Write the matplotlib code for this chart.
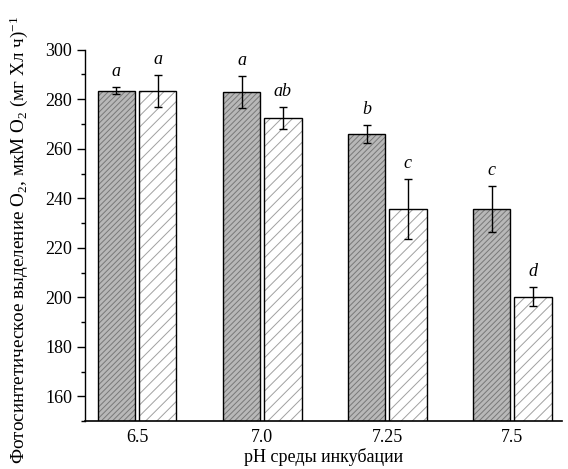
import matplotlib.pyplot as plt
import numpy as np
from matplotlib.ticker import MultipleLocator

plt.rcParams['font.family'] = ['Liberation Serif', 'DejaVu Serif']
plt.rcParams['mathtext.fontset'] = 'custom'
plt.rcParams['mathtext.rm'] = 'Liberation Serif'
plt.rcParams['mathtext.it'] = 'Liberation Serif:italic'
plt.rcParams['hatch.linewidth'] = 0.7

ph_labels = ['6.5', '7.0', '7.25', '7.5']
dark_vals = [283.5, 283.0, 265.9, 235.6]
dark_err = [1.3, 6.4, 3.7, 9.3]
light_vals = [283.2, 272.3, 235.7, 200.3]
light_err = [6.5, 4.4, 12.0, 3.7]
dark_letters = ['a', 'a', 'b', 'c']
light_letters = ['a', 'ab', 'c', 'd']

fig = plt.figure(figsize=(5.68, 4.69), dpi=100)
ax = fig.add_axes([0.150, 0.102, 0.84, 0.792])

x = np.arange(len(ph_labels))
w = 0.30
off = 0.165

# filled + hatched part, then black outline on top
ax.bar(x - off, dark_vals, w, color='#b8b8b8', edgecolor='#787878', hatch='//////', linewidth=0, zorder=2)
ax.bar(x - off, dark_vals, w, color='none', edgecolor='black', linewidth=1.0, zorder=3)
ax.bar(x + off, light_vals, w, color='white', edgecolor='#a0a0a0', hatch='///', linewidth=0, zorder=2)
ax.bar(x + off, light_vals, w, color='none', edgecolor='black', linewidth=1.0, zorder=3)

ax.errorbar(x - off, dark_vals, yerr=dark_err, fmt='none', ecolor='black', elinewidth=1.0, capsize=3, capthick=1.0, zorder=4)
ax.errorbar(x + off, light_vals, yerr=light_err, fmt='none', ecolor='black', elinewidth=1.0, capsize=3, capthick=1.0, zorder=4)

for i in range(len(x)):
    ax.text(x[i] - off, dark_vals[i] + dark_err[i] + 3, dark_letters[i], ha='center', va='bottom',
            fontsize=13, style='italic')
    ax.text(x[i] + off, light_vals[i] + light_err[i] + 3, light_letters[i], ha='center', va='bottom',
            fontsize=13, style='italic')

ax.set_xlim(-0.415, 3.40)
ax.set_ylim(150, 300)
ax.set_xticks(x)
ax.set_xticklabels(ph_labels)
ax.set_yticks(np.arange(160, 301, 20))
ax.yaxis.set_minor_locator(MultipleLocator(10))
ax.tick_params(axis='x', length=0, labelsize=13, pad=6)
ax.tick_params(axis='y', which='major', length=6, width=1.0, labelsize=13, direction='out')
ax.tick_params(axis='y', which='minor', length=3, width=1.0, direction='out')

ax.spines['top'].set_visible(False)
ax.spines['right'].set_visible(False)
ax.spines['left'].set_linewidth(1.0)
ax.spines['bottom'].set_linewidth(1.2)

ax.set_xlabel('pH среды инкубации', fontsize=13, labelpad=1)
ax.set_ylabel('Фотосинтетическое выделение O$_2$, мкМ O$_2$ (мг Хл ч)$^{-1}$', fontsize=13.8, labelpad=6)
ax.yaxis.set_label_coords(-0.115, 0.487)

fig.savefig('out.png', dpi=100)
